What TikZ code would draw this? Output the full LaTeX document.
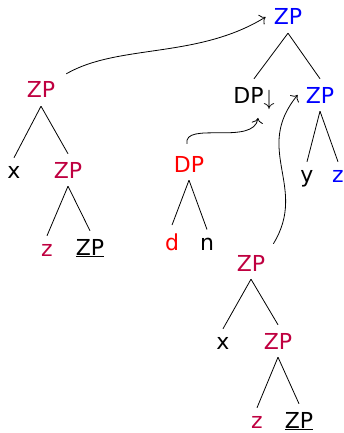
\documentclass[tikz,border=0pt]{standalone}
\usepackage{fix-cm}
\usepackage{fontspec}
\setmainfont{DejaVu Sans}
\usetikzlibrary{arrows.meta}
\definecolor{zpurple}{rgb}{0.75,0,0.25}
\definecolor{zblue}{rgb}{0,0,1}
\definecolor{zred}{rgb}{1,0,0}
\begin{document}
\begin{tikzpicture}[x=1pt,y=-1pt,
  lbl/.style={anchor=base,inner xsep=8pt,inner ysep=8pt,font=\fontsize{22}{26}\selectfont},
  branch/.style={line width=0.8pt},
  mv/.style={line width=0.8pt,-{To[scale=1.6]}}]
\useasboundingbox (0,0) rectangle (344,433);
% right tree
\node[lbl,text=zblue] (tzp) at (288,25) {ZP};
\node[lbl] (dpd) at (254,103) {DP\raisebox{-2.5pt}{$\downarrow$}};
\node[lbl,text=zblue] (rzp) at (320,103) {ZP};
\node[lbl] (y) at (307,182) {y};
\node[lbl,text=zblue] (bz) at (338,182) {z};
% left tree
\node[lbl,text=zpurple] (lzp) at (41,98) {ZP};
\node[lbl] (lx) at (14,178) {x};
\node[lbl,text=zpurple] (lzp2) at (68,178) {ZP};
\node[lbl,text=zpurple] (lz) at (47,256) {z};
\node[lbl] (lzpu) at (90,255) {\underline{ZP}};
% DP tree
\node[lbl,text=zred] (dpr) at (189,172) {DP};
\node[lbl,text=zred] (dd) at (172,250) {d};
\node[lbl] (dn) at (207,250) {n};
% lower tree
\node[lbl,text=zpurple] (mzp) at (251,271) {ZP};
\node[lbl] (mx) at (223,349) {x};
\node[lbl,text=zpurple] (mzp2) at (278,349) {ZP};
\node[lbl,text=zpurple] (mz) at (257,428) {z};
\node[lbl] (mzpu) at (299,428) {\underline{ZP}};
% branches
\draw[branch] (tzp.south) -- (dpd.north);
\draw[branch] (tzp.south) -- (rzp.north);
\draw[branch] (rzp.south) -- (y.north);
\draw[branch] (rzp.south) -- (bz.north);
\draw[branch] (lzp.south) -- (lx.north);
\draw[branch] (lzp.south) -- (lzp2.north);
\draw[branch] (lzp2.south) -- (lz.north);
\draw[branch] (lzp2.south) -- (lzpu.north);
\draw[branch] (dpr.south) -- (dd.north);
\draw[branch] (dpr.south) -- (dn.north);
\draw[branch] (mzp.south) -- (mx.north);
\draw[branch] (mzp.south) -- (mzp2.north);
\draw[branch] (mzp2.south) -- (mz.north);
\draw[branch] (mzp2.south) -- (mzpu.north);
% movement arrows
\draw[mv] ([xshift=3pt]lzp.north east) .. controls +(52,-30) and +(-68,42) .. (tzp.west);
\draw[mv] ([xshift=-2pt,yshift=4pt]dpr.north) .. controls +(-4,-23) and +(-4,28) .. ([xshift=4pt]dpd.south);
\draw[mv] ([yshift=3pt]mzp.north east) .. controls +(35,-57) and +(-45,55) .. (rzp.west);
\end{tikzpicture}
\end{document}
